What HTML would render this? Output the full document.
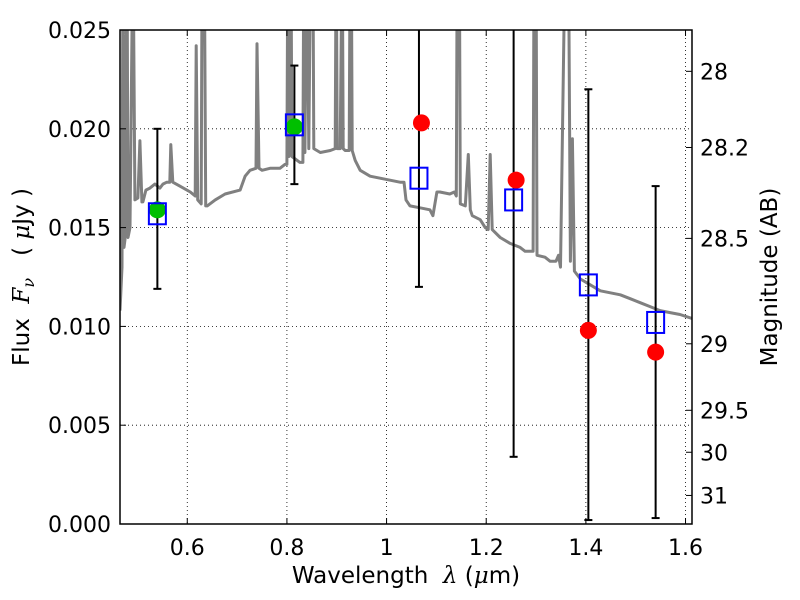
<!DOCTYPE html>
<html><head><meta charset="utf-8"><style>
body{margin:0;background:#fff;}
svg{display:block;font-family:"DejaVu Sans","Liberation Sans",sans-serif;}
</style></head><body>
<svg id="chart" width="800" height="600" viewBox="0 0 800 600" xmlns="http://www.w3.org/2000/svg">
<defs><clipPath id="clip"><rect x="120" y="30" width="572" height="494"/></clipPath></defs>
<g id="grid"></g>
<g id="spec" clip-path="url(#clip)"></g>
<g id="marks" clip-path="url(#clip)"></g>
<g id="axes"></g>
<rect x="120" y="30" width="572" height="494" fill="none" stroke="#000" stroke-width="1.5"/>
<text x="406" y="583" font-size="23" text-anchor="middle" xml:space="preserve">Wavelength  <tspan font-style="italic" font-family="DejaVu Serif,serif">λ</tspan> (<tspan font-style="italic" font-family="DejaVu Serif,serif">μ</tspan>m)</text>
<text transform="translate(29,277) rotate(-90)" font-size="23" text-anchor="middle" xml:space="preserve">Flux  <tspan font-style="italic" font-family="DejaVu Serif,serif">F</tspan><tspan font-style="italic" font-family="DejaVu Serif,serif" font-size="16" dy="5">ν</tspan><tspan dy="-5">   ( </tspan><tspan font-style="italic" font-family="DejaVu Serif,serif">μ</tspan>Jy )</text>
<text transform="translate(777,277) rotate(-90)" font-size="23" text-anchor="middle">Magnitude (AB)</text>
</svg>
<script>
const specWave=[0.465,0.469,0.471,0.473,0.475,0.479,0.481,0.485,0.491,0.495,0.501,0.505,0.509,0.511,0.517,0.525,0.535,0.545,0.551,0.559,0.565,0.567,0.571,0.585,0.606,0.616,0.618,0.621,0.628,0.630,0.634,0.637,0.640,0.656,0.676,0.706,0.716,0.726,0.738,0.740,0.744,0.750,0.766,0.786,0.796,0.800,0.802,0.804,0.808,0.810,0.826,0.832,0.834,0.836,0.840,0.844,0.848,0.852,0.854,0.867,0.887,0.897,0.899,0.901,0.907,0.911,0.913,0.917,0.925,0.927,0.929,0.931,0.937,0.947,0.967,0.987,1.007,1.027,1.035,1.039,1.047,1.067,1.087,1.093,1.101,1.107,1.127,1.136,1.140,1.142,1.146,1.148,1.158,1.164,1.168,1.172,1.188,1.198,1.204,1.208,1.212,1.228,1.248,1.268,1.278,1.294,1.296,1.300,1.302,1.318,1.328,1.340,1.345,1.349,1.359,1.365,1.369,1.373,1.377,1.389,1.409,1.429,1.449,1.469,1.489,1.509,1.529,1.549,1.569,1.589,1.613];
const specFlux=[0.0108,0.013,0.03,0.014,0.0144,0.03,0.0145,0.015,0.03,0.0164,0.0165,0.0194,0.0163,0.0163,0.0169,0.017,0.0172,0.0170,0.0172,0.0173,0.0173,0.0192,0.0173,0.0171,0.0168,0.0166,0.0242,0.0164,0.0162,0.03,0.03,0.0161,0.0161,0.0164,0.0167,0.0169,0.0176,0.0179,0.0180,0.0243,0.0180,0.0179,0.0180,0.0180,0.0182,0.0182,0.03,0.0186,0.03,0.0186,0.0183,0.0183,0.03,0.0188,0.03,0.0190,0.03,0.03,0.0190,0.0188,0.0189,0.0190,0.03,0.0190,0.0190,0.03,0.0190,0.0189,0.0189,0.03,0.03,0.0189,0.0184,0.0179,0.0176,0.0175,0.0174,0.0173,0.0173,0.0164,0.0161,0.0160,0.0159,0.0156,0.0168,0.0168,0.0167,0.0168,0.0166,0.03,0.03,0.0162,0.0161,0.0187,0.0159,0.0156,0.0154,0.0150,0.0149,0.0187,0.0149,0.0145,0.0142,0.0140,0.0138,0.0138,0.03,0.03,0.0136,0.0135,0.0133,0.0133,0.0136,0.0130,0.03,0.03,0.0133,0.0195,0.0128,0.0124,0.0121,0.0118,0.0117,0.0116,0.0114,0.0112,0.0110,0.0108,0.0107,0.0106,0.0104];
const greenWave=[0.54,0.815];
const greenFlux=[0.0159,0.0201];
const boxWave=[0.54,0.815,1.065,1.255,1.405,1.54];
const boxFlux=[0.0157,0.0202,0.0175,0.0164,0.0121,0.0102];
const redWave=[1.07,1.26,1.405,1.54];
const redFlux=[0.0203,0.0174,0.0098,0.0087];
const errWave=[0.54,0.815,1.065,1.255,1.405,1.54];
const errLow=[0.0119,0.0172,0.0120,0.0034,0.0002,0.0003];
const errHigh=[0.0200,0.0232,0.0300,0.0300,0.0220,0.0171];
const xTicks=[0.6,0.8,1.0,1.2,1.4,1.6];
const xTickLabels=["0.6","0.8","1","1.2","1.4","1.6"];
const yTicks=[0,0.005,0.010,0.015,0.020,0.025];
const yTickLabels=["0.000","0.005","0.010","0.015","0.020","0.025"];
const magTicks=[28,28.2,28.5,29,29.5,30,31];
const magTickLabels=["28","28.2","28.5","29","29.5","30","31"];

const NS="http://www.w3.org/2000/svg";
const X0=120,X1=692,Y0=524,Y1=30,XMIN=0.465,XMAX=1.613,YMIN=0,YMAX=0.025;
function xs(v){return X0+(v-XMIN)/(XMAX-XMIN)*(X1-X0);}
function ys(v){return Y0-(v-YMIN)/(YMAX-YMIN)*(Y0-Y1);}
function magY(m){return ys(Math.pow(10,(23.9-m)/2.5));}
function mk(tag,attrs,parent){const e=document.createElementNS(NS,tag);for(const k in attrs)e.setAttribute(k,attrs[k]);parent.appendChild(e);return e;}
const grid=document.getElementById('grid'),spec=document.getElementById('spec'),marks=document.getElementById('marks'),axes=document.getElementById('axes');

xTicks.forEach((t,i)=>{
  const x=xs(t);
  let g=mk('line',{x1:x,x2:x,y1:Y1,y2:Y0,stroke:'#000','stroke-width':0.8,'stroke-dasharray':'1,3'},grid);
  
  
  mk('line',{x1:x,x2:x,y1:Y0,y2:Y0-6,stroke:'#000','stroke-width':1},axes);
  mk('line',{x1:x,x2:x,y1:Y1,y2:Y1+6,stroke:'#000','stroke-width':1},axes);
  let l=mk('text',{x:x,y:Y0+31,'font-size':22,'text-anchor':'middle'},axes);
  l.textContent=xTickLabels[i];
  
  
});
yTicks.forEach((t,i)=>{
  const y=ys(t);
  let g=mk('line',{x1:X0,x2:X1,y1:y,y2:y,stroke:'#000','stroke-width':0.8,'stroke-dasharray':'1,3'},grid);
  
  
  mk('line',{x1:X0,x2:X0+6,y1:y,y2:y,stroke:'#000','stroke-width':1},axes);
  let l=mk('text',{x:X0-9,y:y+8,'font-size':22,'text-anchor':'end'},axes);
  l.textContent=yTickLabels[i];
  
  
});
magTicks.forEach((m,i)=>{
  const y=magY(m);
  mk('line',{x1:X1,x2:X1-6,y1:y,y2:y,stroke:'#000','stroke-width':1},axes);
  let l=mk('text',{x:X1+8,y:y+8,'font-size':22,'text-anchor':'start'},axes);
  l.textContent=magTickLabels[i];
  
  
});

let d=specWave.map((w,i)=>(i?'L':'M')+xs(w).toFixed(1)+','+ys(specFlux[i]).toFixed(1)).join('');
let sp=mk('path',{d:d,fill:'none',stroke:'#808080','stroke-width':3,'stroke-linejoin':'round'},spec);



errWave.forEach((w,i)=>{
  const x=xs(w),ya=ys(errLow[i]),yb=ys(errHigh[i]);
  let e=mk('line',{x1:x,x2:x,y1:ya,y2:yb,stroke:'#000','stroke-width':2},marks);
  
  
  mk('line',{x1:x-4,x2:x+4,y1:ya,y2:ya,stroke:'#000','stroke-width':2},marks);
  mk('line',{x1:x-4,x2:x+4,y1:yb,y2:yb,stroke:'#000','stroke-width':2},marks);
});
greenWave.forEach((w,i)=>{
  let c=mk('circle',{cx:xs(w),cy:ys(greenFlux[i]),r:8.5,fill:'#00bf00'},marks);
  
  
});
redWave.forEach((w,i)=>{
  let c=mk('circle',{cx:xs(w),cy:ys(redFlux[i]),r:8.5,fill:'#ff0000'},marks);
  
  
});
boxWave.forEach((w,i)=>{
  let r=mk('rect',{x:xs(w)-8.5,y:ys(boxFlux[i])-10.5,width:17,height:21,fill:'none',stroke:'#0000ff','stroke-width':2},marks);
  
  
});
</script>
</body></html>
